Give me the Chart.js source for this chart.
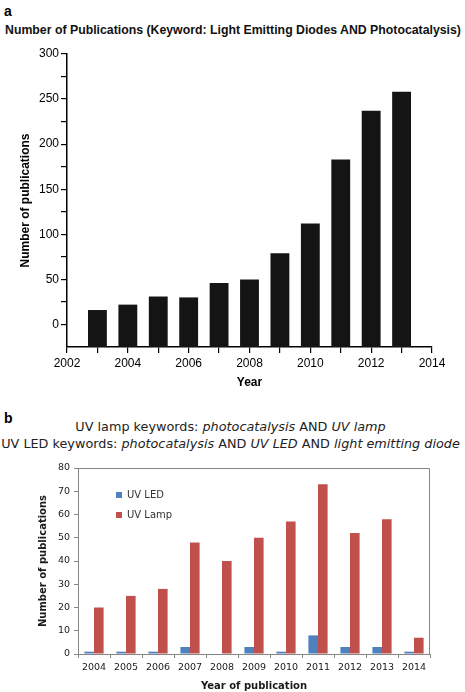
<!DOCTYPE html>
<html>
<head>
<meta charset="utf-8">
<script src="https://cdn.jsdelivr.net/npm/chart.js@4.4.1/dist/chart.umd.min.js"></script>
<style>
  body { margin: 0; background: #fff; }
  #page { position: relative; width: 465px; height: 692px; overflow: hidden; }
  .panel { position: absolute; left: 4px; font: bold 14px "Liberation Sans", Arial, sans-serif; line-height: 14px; color: #000; }
  #titleA { position: absolute; left: 0; top: 24px; width: 466px; text-align: center; white-space: nowrap;
            font: bold 12.3px "Liberation Sans", Arial, sans-serif; line-height: 12px; color: #111; }
  #titleB { position: absolute; left: 0; top: 418px; width: 461px; text-align: center; white-space: nowrap;
            font: 12.8px "DejaVu Sans", Verdana, sans-serif; line-height: 17px; color: #222; }
  #chartA { position: absolute; left: 0; top: 40px; }
  #chartB { position: absolute; left: 0; top: 455px; }
</style>
</head>
<body>
<div id="page">
  <div class="panel" style="top:4px">a</div>
  <div id="titleA">Number of Publications (Keyword: Light Emitting Diodes AND Photocatalysis)</div>
  <canvas id="chartA" width="465" height="360"></canvas>

  <div class="panel" style="top:411px">b</div>
  <div id="titleB">UV lamp keywords: <i>photocatalysis</i> AND <i>UV lamp</i><br>UV LED keywords: <i>photocatalysis</i> AND <i>UV LED</i> AND <i>light emitting diode</i></div>
  <canvas id="chartB" width="465" height="237"></canvas>
</div>
<script>
// panel a data
const yearsA = [2003, 2004, 2005, 2006, 2007, 2008, 2009, 2010, 2011, 2012, 2013];
const pubsA = [16, 22, 31, 30, 46, 50, 79, 112, 183, 237, 258];
const yTicksA = [0, 25, 50, 75, 100, 125, 150, 175, 200, 225, 250, 275, 300];

// panel b data
const yearsB = ['2004', '2005', '2006', '2007', '2008', '2009', '2010', '2011', '2012', '2013', '2014'];
const ledB = [1, 1, 1, 3, 0, 3, 1, 8, 3, 3, 1];
const lampB = [20, 25, 28, 48, 40, 50, 57, 73, 52, 58, 7];

const arial = 'Liberation Sans, Arial, sans-serif';
const verdana = 'DejaVu Sans, Verdana, sans-serif';

new Chart(document.getElementById('chartA'), {
    type: 'bar',
    data: {
        datasets: [{
            data: yearsA.map((x, i) => ({ x: x, y: pubsA[i] })),
            backgroundColor: '#141414',
            base: -25,
            categoryPercentage: 0.62,
            barPercentage: 1
        }]
    },
    options: {
        responsive: false,
        animation: false,
        layout: { padding: { top: 14, right: 33, left: 0, bottom: 0 } },
        plugins: { legend: { display: false }, tooltip: { enabled: false } },
        scales: {
            x: {
                type: 'linear',
                min: 2002,
                max: 2014,
                offset: false,
                grid: { offset: false, drawOnChartArea: false, tickLength: 6, color: '#000', lineWidth: 1.2 },
                border: { color: '#000', width: 1.5 },
                ticks: {
                    stepSize: 1, autoSkip: false, maxRotation: 0, padding: 3,
                    color: '#000', font: { family: arial, size: 12 },
                    callback: v => (v % 2 === 0 ? String(v) : '')
                },
                title: { display: true, text: 'Year', color: '#000', font: { family: arial, size: 12, weight: 'bold' }, padding: { top: 0, bottom: 10 } },
                afterFit: s => { s.height = 53; }
            },
            y: {
                min: -25,
                max: 300,
                afterBuildTicks: s => { s.ticks = yTicksA.map(v => ({ value: v })); },
                grid: { drawOnChartArea: false, tickLength: 6, color: '#000', lineWidth: 1.2 },
                border: { color: '#000', width: 1.5 },
                ticks: {
                    padding: 2, color: '#000', font: { family: arial, size: 12 },
                    callback: v => (v % 50 === 0 ? String(v) : '')
                },
                title: { display: true, text: 'Number of publications', color: '#000', font: { family: arial, size: 12, weight: 'bold' }, padding: { top: 18, bottom: 0 } },
                afterFit: s => { s.width = 67; }
            }
        }
    }
});

// top and right edges of the plot box in panel b
const frameB = {
    id: 'frameB',
    afterDatasetsDraw(chart) {
        const { ctx, chartArea } = chart;
        ctx.save();
        ctx.strokeStyle = '#868686';
        ctx.lineWidth = 1;
        ctx.beginPath();
        ctx.moveTo(chartArea.left, chartArea.top + 0.5);
        ctx.lineTo(chartArea.right - 0.5, chartArea.top + 0.5);
        ctx.lineTo(chartArea.right - 0.5, chartArea.bottom);
        ctx.stroke();
        ctx.restore();
    }
};

// move the legend a little inside the plot box
const legendInside = {
    id: 'legendInside',
    afterLayout(chart) {
        const lg = chart.legend, ca = chart.chartArea;
        lg.left = ca.left + 28;
        lg.top = ca.top + 12;
        lg.right = ca.right;
        lg.bottom = ca.bottom;
        lg.width = lg.right - lg.left;
        lg.height = lg.bottom - lg.top;
    }
};

new Chart(document.getElementById('chartB'), {
    type: 'bar',
    data: {
        labels: yearsB,
        datasets: [
            { label: 'UV LED', data: ledB, backgroundColor: '#4F81BD', categoryPercentage: 0.6, barPercentage: 1 },
            { label: 'UV Lamp', data: lampB, backgroundColor: '#C0504D', categoryPercentage: 0.6, barPercentage: 1 }
        ]
    },
    options: {
        responsive: false,
        animation: false,
        layout: { padding: { top: 13, right: 35, left: 0, bottom: 0 } },
        plugins: {
            tooltip: { enabled: false },
            legend: {
                position: 'chartArea',
                align: 'start',
                labels: { boxWidth: 6, boxHeight: 6, padding: 10, color: '#333', font: { family: verdana, size: 10 } }
            }
        },
        scales: {
            x: {
                grid: { drawOnChartArea: false, tickLength: 4, color: '#868686' },
                border: { color: '#868686' },
                ticks: { padding: 4, color: '#1a1a1a', font: { family: verdana, size: 9.5 } },
                title: { display: true, text: 'Year of publication', color: '#1a1a1a', font: { family: verdana, size: 10, weight: 'bold' }, padding: { top: 0, bottom: 0 } },
                afterFit: s => { s.height = 38; }
            },
            y: {
                min: 0,
                max: 80,
                grid: { drawOnChartArea: false, tickLength: 4, color: '#868686' },
                border: { color: '#868686' },
                ticks: { stepSize: 10, padding: 4, color: '#1a1a1a', font: { family: verdana, size: 9.5 } },
                title: { display: true, text: 'Number of publications', color: '#1a1a1a', font: { family: verdana, size: 10, weight: 'bold' }, padding: { top: 37, bottom: 0 } },
                afterFit: s => { s.width = 78; }
            }
        }
    },
    plugins: [frameB, legendInside]
});
</script>
</body>
</html>
